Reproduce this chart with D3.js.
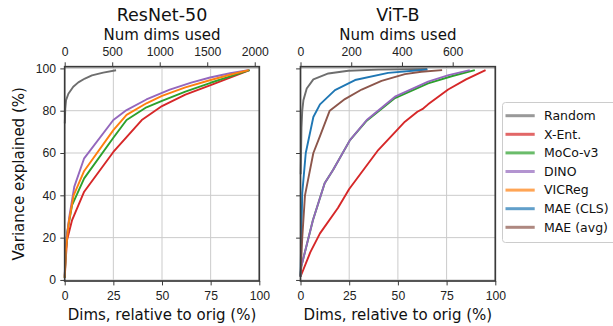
<!DOCTYPE html>
<html>
<head>
<meta charset="utf-8">
<script src="https://cdn.jsdelivr.net/npm/d3@7"></script>
<style>
  body { margin: 0; background: #fff; }
  svg { font-family: "DejaVu Sans", sans-serif; }
  .grid line { stroke: #cbcbcb; stroke-width: 1; }
  .axis path, .axis line { stroke: #3a3a3a; }
  .axis text { fill: #222; font-size: 12.2px; }
</style>
</head>
<body>
<svg id="chart" width="613" height="326"></svg>
<script>

var models = ["Random", "X-Ent.", "MoCo-v3", "DINO", "VICReg", "MAE (CLS)", "MAE (avg)"];
var colors = ["#6e6e6e", "#d62728", "#2ca02c", "#9467bd", "#ff7f0e", "#1f77b4", "#8c564b"];

var pctTicks = [0, 25, 50, 75, 100];
var varTicks = [0, 20, 40, 60, 80, 100];
var resnetDimTicks = [0, 500, 1000, 1500, 2000];
var vitDimTicks = [0, 200, 400, 600];

// [dims relative to orig (%), variance explained (%)]
var rnRandom = [[0.05,74],[0.3,81],[0.7,85],[1.9,88],[4.4,91.3],[7,93.4],[10.4,95.2],[14,96.7],[19.8,98],[26.4,99.1]];
var rnXEnt   = [[0,1],[0.5,9],[1.2,18.9],[3.8,28.3],[10,41.7],[25,60.5],[39.6,75.6],[50,82.2],[62,87.6],[75,92.1],[85,95.6],[95,99.2]];
var rnMoco   = [[0,1],[0.5,12],[1.2,22],[3.8,35.4],[10,48],[25,67.2],[31.8,75.6],[42,81.6],[50,84.6],[62,89],[75,93.2],[85,96.2],[95,99.2]];
var rnDino   = [[0,2],[0.5,14],[1,20],[2.4,30],[4.9,44],[10,57.5],[25,75.6],[31.8,80.3],[42,85.3],[54,90],[65,93.3],[74.7,95.7],[85,97.7],[94.3,99.2]];
var rnVicreg = [[0,1],[0.5,13],[2,26.8],[4.6,40],[10,51.5],[25,70.8],[31.8,78],[42,83.5],[50,87],[62,91],[75,94.5],[85,97],[94.5,99.2]];

var vitRandom = [[0.1,50],[0.5,72],[0.9,80],[1.5,85],[3.2,90.5],[6.6,94.8],[14.3,97.6],[24.5,98.9],[40,99.4],[65,99.7]];
var vitXEnt   = [[0,1.5],[5,13],[10,22],[19.2,34],[25,43],[39.9,61.4],[53.6,74.8],[60,79.5],[63,81],[65.5,83],[75.8,90],[85,94.8],[95,99.2]];
var vitMoco   = [[0,2],[0.4,6.3],[6.4,28.3],[12.4,45.7],[16.7,52],[25.4,66.1],[34,75.3],[48.5,86],[65.5,92.9],[78,96.4],[89.5,99.2]];
var vitDino   = [[0,2],[0.4,6.3],[6.4,28.3],[12.4,45.7],[16.7,52],[25.4,66.1],[34,75.6],[48.5,86.6],[65.5,93.7],[76,96.8],[86.9,99.2]];
var vitMaeCls = [[0,1.5],[0.4,20],[0.9,41],[2.7,60],[6.6,77],[10,83],[17.7,89.7],[28,94.5],[45,97.9],[65.2,99.5]];
var vitMaeAvg = [[0,1.5],[0.9,20],[2.3,40],[6.6,60],[10,68],[15,80],[22.8,85.5],[31.4,90],[41.6,94.1],[53.6,97.3],[62,98.4],[72.7,99.2]];

var svg = d3.select("#chart");

var plotTop = 66.7, plotBottom = 281;
var yScale = d3.scaleLinear().domain([-0.5, 100.8]).range([plotBottom, plotTop]);

function panel(title, left, right, totalDims, dimTicks, series, showYLabels) {
    var xScale = d3.scaleLinear().domain([0, 100]).range([left, right]);
    var xTop = d3.scaleLinear().domain([0, totalDims]).range([left, right]);

    var g = svg.append("g");

    // grid
    g.append("g").attr("class", "grid")
      .selectAll("line").data(pctTicks.slice(1, -1)).enter().append("line")
      .attr("x1", function(d){ return xScale(d); }).attr("x2", function(d){ return xScale(d); })
      .attr("y1", plotTop).attr("y2", plotBottom);
    g.append("g").attr("class", "grid")
      .selectAll("line").data(varTicks).enter().append("line")
      .attr("x1", left).attr("x2", right)
      .attr("y1", function(d){ return yScale(d); }).attr("y2", function(d){ return yScale(d); });

    var line = d3.line()
      .x(function(d){ return xScale(d[0]); })
      .y(function(d){ return yScale(d[1]); });

    g.selectAll(".curve").data(series).enter().append("path")
      .attr("class", "curve")
      .attr("d", function(d){ return line(d.values); })
      .attr("fill", "none")
      .attr("stroke", function(d){ return colors[d.idx]; })
      .attr("stroke-width", 1.9)
      .attr("stroke-linejoin", "round");

    // axes
    g.append("g").attr("class", "axis")
      .attr("transform", "translate(0," + plotBottom + ")")
      .call(d3.axisBottom(xScale).tickValues(pctTicks).tickSize(4.4).tickPadding(6).tickSizeOuter(0));
    g.append("g").attr("class", "axis")
      .attr("transform", "translate(0," + plotTop + ")")
      .call(d3.axisTop(xTop).tickValues(dimTicks).tickFormat(d3.format("d"))
        .tickSize(4.4).tickPadding(6).tickSizeOuter(0));
    var lAx = g.append("g").attr("class", "axis")
      .attr("transform", "translate(" + left + ",0)")
      .call(d3.axisLeft(yScale).tickValues(varTicks).tickSize(4.4).tickPadding(4.3).tickSizeOuter(0));
    if (!showYLabels) lAx.selectAll("text").remove();
    g.selectAll(".axis path").remove();

    // frame
    g.append("rect")
      .attr("x", left).attr("y", plotTop)
      .attr("width", right - left).attr("height", plotBottom - plotTop)
      .attr("fill", "none").attr("stroke", "#3a3a3a").attr("stroke-width", 1.7);

    g.append("text")
      .attr("x", (left + right) / 2).attr("y", 20.7)
      .attr("text-anchor", "middle").style("font-size", "17.5px").style("fill", "#111")
      .text(title);
    g.append("text")
      .attr("x", (left + right) / 2).attr("y", 40)
      .attr("text-anchor", "middle").style("font-size", "15px").style("fill", "#111")
      .text("Num dims used");
    g.append("text")
      .attr("x", (left + right) / 2).attr("y", 320)
      .attr("text-anchor", "middle").style("font-size", "15px").style("fill", "#111")
      .text("Dims, relative to orig (%)");
}

panel("ResNet-50", 64.7, 259.3, 2048, resnetDimTicks, [
    {idx: 0, values: rnRandom},
    {idx: 1, values: rnXEnt},
    {idx: 2, values: rnMoco},
    {idx: 3, values: rnDino},
    {idx: 4, values: rnVicreg}
], true);

panel("ViT-B", 300.5, 495.3, 768, vitDimTicks, [
    {idx: 0, values: vitRandom},
    {idx: 1, values: vitXEnt},
    {idx: 2, values: vitMoco},
    {idx: 3, values: vitDino},
    {idx: 5, values: vitMaeCls},
    {idx: 6, values: vitMaeAvg}
], false);

svg.append("text")
  .attr("transform", "translate(24," + ((plotTop + plotBottom) / 2) + ") rotate(-90)")
  .attr("text-anchor", "middle").style("font-size", "15px").style("fill", "#111")
  .text("Variance explained (%)");

// legend
var legend = svg.append("g");
legend.append("rect")
  .attr("x", 502.5).attr("y", 102.5).attr("width", 116).attr("height", 140)
  .attr("rx", 3).attr("fill", "#fff").attr("stroke", "#cccccc");

var entry = legend.selectAll(".entry").data(models).enter().append("g")
  .attr("class", "entry")
  .attr("transform", function(d, i){ return "translate(0," + (115.7 + i * 18.6) + ")"; });
entry.append("line")
  .attr("x1", 505.5).attr("x2", 534.7).attr("y1", 0).attr("y2", 0)
  .attr("stroke", function(d, i){ return colors[i]; })
  .attr("stroke-width", 3).attr("opacity", 0.7);
entry.append("text")
  .attr("x", 544).attr("y", 0).attr("dy", "0.35em")
  .style("font-size", "12.5px").style("fill", "#111")
  .text(function(d){ return d; });

</script>
</body>
</html>
